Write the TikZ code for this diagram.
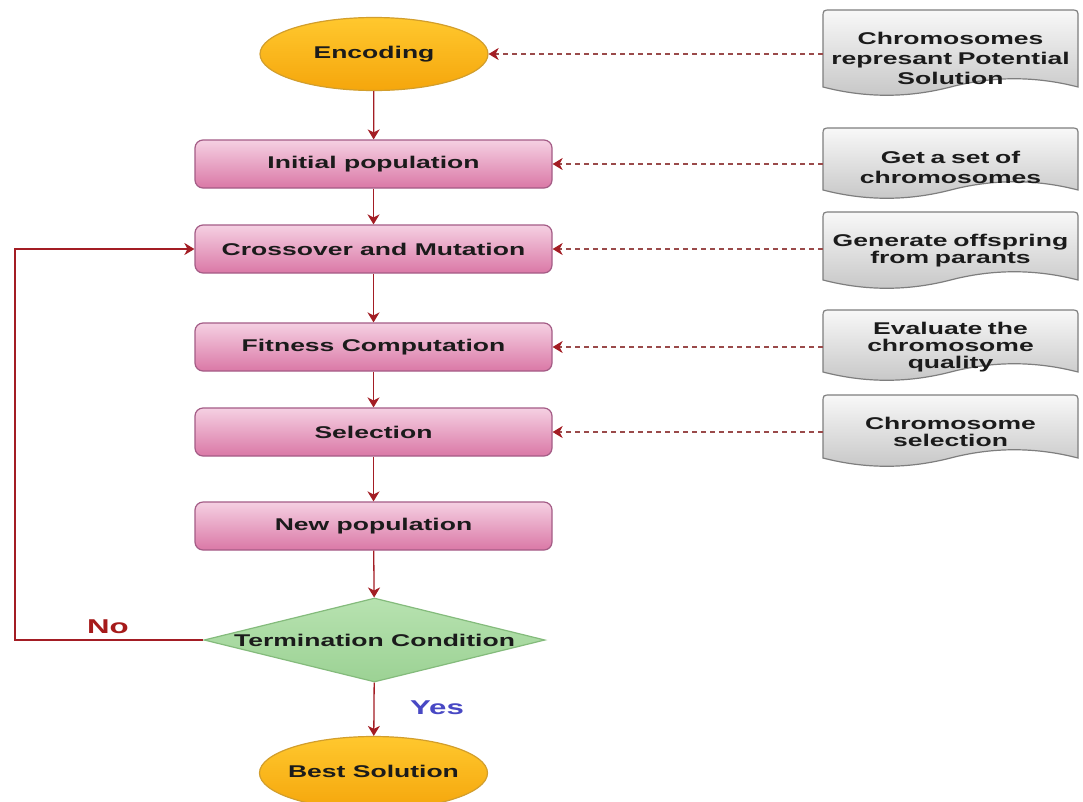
\documentclass[tikz,border=0pt]{standalone}
\usepackage{fontspec}
\setmainfont{Liberation Sans}[FakeStretch=1.56]
\usetikzlibrary{shapes.geometric,arrows.meta,calc}

\definecolor{orgtop}{HTML}{FFC82E}
\definecolor{orgbot}{HTML}{F5A60C}
\definecolor{orgline}{HTML}{D29E2C}
\definecolor{pnktop}{HTML}{F5D0E2}
\definecolor{pnkbot}{HTML}{DA78A6}
\definecolor{pnkline}{HTML}{A45C86}
\definecolor{grntop}{HTML}{B7E2B0}
\definecolor{grnbot}{HTML}{9CD294}
\definecolor{grnline}{HTML}{84BB7C}
\definecolor{doctop}{HTML}{F8F8F8}
\definecolor{docbot}{HTML}{C6C6C6}
\definecolor{docline}{HTML}{7E7E7E}
\definecolor{flowred}{HTML}{A31D24}
\definecolor{dashred}{HTML}{9A4A4A}
\definecolor{ink}{HTML}{1B1B1B}
\definecolor{nored}{HTML}{A61A1A}
\definecolor{yesblue}{HTML}{4848C4}

\newcommand\boxfont{\fontsize{17}{17}\selectfont\bfseries}

% document-shaped note: name, top y, bottom y, text centre y, text
\newcommand\docnote[5]{%
  \path[docshape] (823,#3) -- (823,#2+8) .. controls (823,#2) .. (831,#2)
    -- (1070,#2) .. controls (1078,#2) .. (1078,#2+8) -- (1078,#3)
    .. controls (1035.5,#3-11) and (993,#3-11) .. (950.5,#3)
    .. controls (908,#3+11) and (865.5,#3+11) .. (823,#3) -- cycle;
  \node[notetext] (#1) at (950.5,#4) {#5};
}

\begin{document}
\begin{tikzpicture}[x=1pt,y=-1pt,
  stepbox/.style={rectangle, rounded corners=8pt, minimum width=357pt,
    minimum height=48pt, inner sep=0pt, draw=pnkline, line width=1.2pt,
    top color=pnktop, bottom color=pnkbot, font=\boxfont, text=ink},
  termbox/.style={ellipse, minimum width=228pt, minimum height=73pt,
    inner sep=0pt, draw=orgline, line width=1.2pt,
    top color=orgtop, bottom color=orgbot},
  inlabel/.style={font=\boxfont, text=ink},
  decision/.style={diamond, minimum width=341pt, minimum height=84pt,
    inner sep=0pt, draw=grnline, line width=1.2pt,
    top color=grntop, bottom color=grnbot},
  docshape/.style={draw=docline, line width=1.2pt, top color=doctop,
    bottom color=docbot},
  notetext/.style={text width=250pt, inner xsep=2.5pt, inner ysep=0pt,
    align=center, font=\boxfont, text=ink},
  flow/.style={draw=flowred, line width=1.3pt,
    -{Stealth[length=10pt,width=12pt,inset=3pt]}},
  feed/.style={draw=dashred, line width=1.1pt, dash pattern=on 5pt off 4pt,
    -{Stealth[length=10pt,width=12pt,inset=3pt,flowred]}}
]
\useasboundingbox (0,0) rectangle (1083,801);
\fill[white] (0,0) rectangle (1083,801);

% main flow
\node[termbox, label={[inlabel]center:Encoding}] (enc) at (374,54) {};
\node[stepbox] (init) at (373.5,164) {Initial population};
\node[stepbox] (cross) at (373.5,249) {Crossover and Mutation};
\node[stepbox] (fit) at (373.5,347) {Fitness Computation};
\node[stepbox] (sel) at (373.5,432) {Selection};
\node[stepbox] (newpop) at (373.5,526) {New population};
\node[decision, label={[inlabel]center:Termination Condition}]
  (cond) at (374.5,640) {};
\node[termbox, label={[inlabel, yshift=2pt]center:Best Solution}]
  (best) at (373.5,773) {};

% side notes
\docnote{n1}{10}{87}{58}{Chromosomes\\[3pt] represant Potential\\[3pt] Solution}
\docnote{n2}{128}{190}{167}{Get a set of\\[3pt] chromosomes}
\docnote{n3}{212}{280}{251}{Generate offspring\\ from parants}
\docnote{n4}{310}{372}{347}{Evaluate the\\ chromosome\\ quality}
\docnote{n5}{395}{458}{432}{Chromosome\\ selection}

% flow arrows
\draw[flow] (enc) -- (init);
\draw[flow] (init) -- (cross);
\draw[flow] (cross) -- (fit);
\draw[flow] (fit) -- (sel);
\draw[flow] (sel) -- (newpop);
\draw[flow] (newpop) -- (cond);
\draw[flow] (cond) -- (best);

% loop back when not terminated
\coordinate (loopx) at (15,640);
\draw[flow] (cond.west) -- (loopx |- cond.west) |- (cross.west);
\node[font=\fontsize{20}{20}\selectfont\bfseries, text=nored] (nolbl) at (108,627) {No};
\node[font=\fontsize{20}{20}\selectfont\bfseries, text=yesblue] (yeslbl) at (437,708) {Yes};

% dashed feeds from the notes
\draw[feed] (n1.west |- enc.east) -- (enc.east);
\draw[feed] (n2.west |- init.east) -- (init.east);
\draw[feed] (n3.west |- cross.east) -- (cross.east);
\draw[feed] (n4.west |- fit.east) -- (fit.east);
\draw[feed] (n5.west |- sel.east) -- (sel.east);
\end{tikzpicture}
\end{document}
